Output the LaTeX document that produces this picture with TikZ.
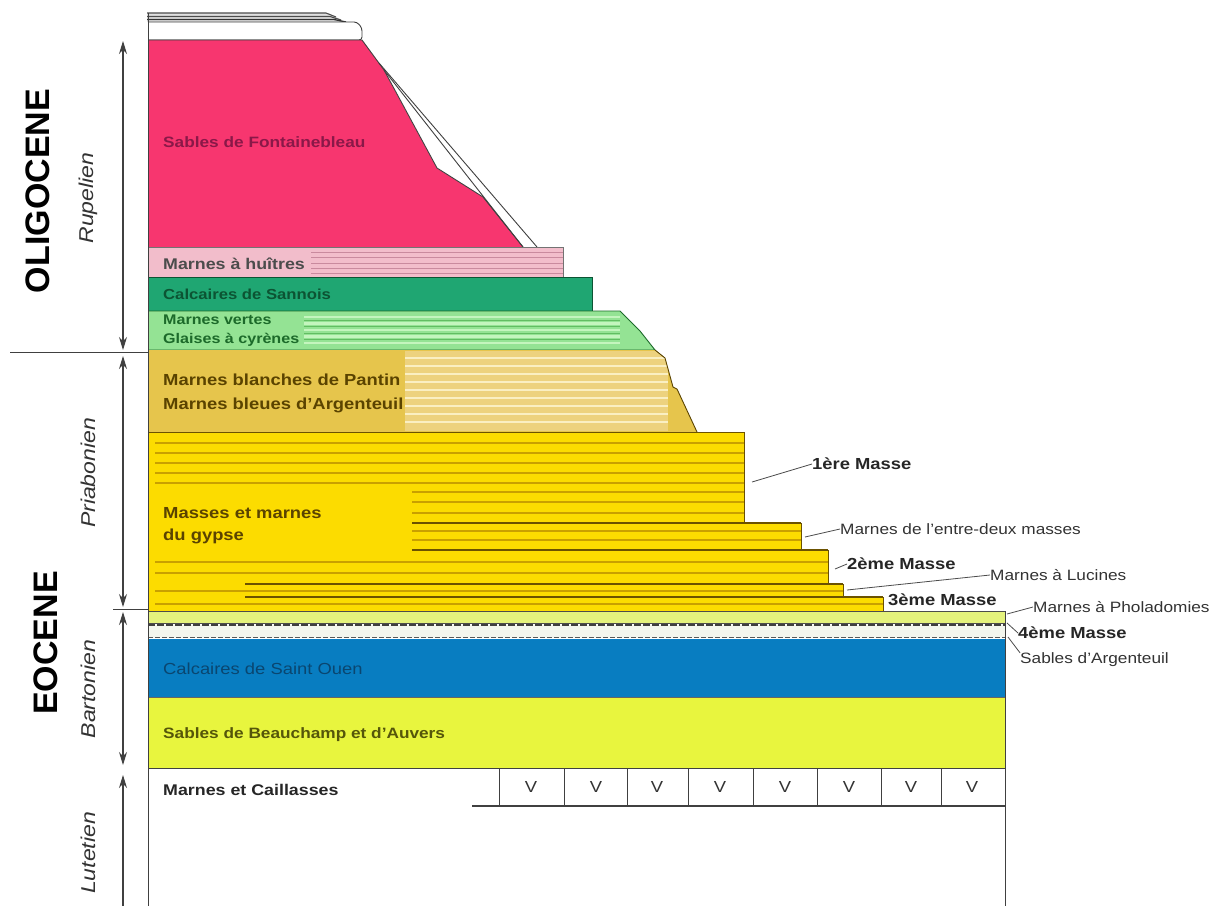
\documentclass[tikz,border=0pt]{standalone}
\usepackage{fontspec}
\setmainfont{Liberation Sans}[FakeStretch=1.15]
\newfontfamily\epochfont{Liberation Sans}
\usetikzlibrary{arrows.meta}
\newcommand{\myfs}[1]{\fontsize{#1}{#1}\selectfont}
\definecolor{pinkF}{HTML}{F7366F}
\definecolor{pinkT}{HTML}{8A1848}
\definecolor{huitre}{HTML}{F2BDCB}
\definecolor{huitreL}{HTML}{C98A9E}
\definecolor{sannois}{HTML}{1FA672}
\definecolor{sannoisT}{HTML}{0C5433}
\definecolor{vertes}{HTML}{94E394}
\definecolor{vertesL}{HTML}{C4F5BE}
\definecolor{vertesD}{HTML}{62BD62}
\definecolor{vertesT}{HTML}{1C6A2A}
\definecolor{tan}{HTML}{E6C54C}
\definecolor{tanH}{HTML}{EDD27E}
\definecolor{tanL}{HTML}{FAEFC2}
\definecolor{tanT}{HTML}{5A4300}
\definecolor{gyp}{HTML}{FCDC00}
\definecolor{gypL}{HTML}{C9A000}
\definecolor{gypD}{HTML}{6B5200}
\definecolor{phol}{HTML}{E4F27C}
\definecolor{argent}{HTML}{F3F6EE}
\definecolor{ouen}{HTML}{087DC1}
\definecolor{ouenT}{HTML}{0A4670}
\definecolor{beau}{HTML}{E8F53E}
\definecolor{beauT}{HTML}{55560A}
\tikzset{
 edge/.style={draw=black!75, line width=0.9pt},
 lab/.style={anchor=west, inner sep=0pt},
 small/.style={anchor=west, inner sep=0pt, font=\myfs{15}, text=black!80},
 masse/.style={anchor=west, inner sep=0pt, font=\myfs{16}\bfseries, text=black!85},
 stage/.style={rotate=90, inner sep=0pt, font=\myfs{20}\itshape, text=black!80},
 epoch/.style={rotate=90, inner sep=0pt, font=\epochfont\myfs{34}\bfseries, text=black},
 leader/.style={draw=black!70, line width=0.8pt},
 axisline/.style={draw=black!75, line width=1.1pt},
 dbl/.style={axisline, {Stealth[length=13pt,width=8pt]}-{Stealth[length=13pt,width=8pt]}},
 gstripe/.style={draw=gypL, line width=2.2pt},
 gdark/.style={draw=gypD, line width=1.6pt}
}
\begin{document}
\begin{tikzpicture}[x=1pt,y=-1pt]
\useasboundingbox (0,0) rectangle (1216,906);
\fill[white] (0,0) rectangle (1216,906);

% top strata
\fill[black!12] (147,13) -- (328,13) -- (346,22) -- (147,22) -- cycle;
\draw[black!70, line width=1.1pt] (147,13)--(326,13)--(336,17);
\draw[black!70, line width=1.1pt] (147,16.5)--(330,16.5)--(341,20);
\draw[black!80, line width=1.3pt] (147,19.5)--(334,19.5)--(346,22);
\draw[edge, fill=white, rounded corners=3pt] (148,22) -- (357,22) -- (362,28) -- (362,40) -- (148,40);

% Sables de Fontainebleau
\fill[pinkF] (148,40) -- (362,40) -- (384,70) -- (437,168) -- (483,197) -- (523,247) -- (148,247) -- cycle;
\fill[white] (384,70) -- (380,64) -- (537,247) -- (523,247) -- (483,197) -- (437,168) -- cycle;
\draw[edge] (148,40) -- (362,40) -- (384,70) -- (437,168) -- (483,197) -- (523,247);
\draw[edge] (384,70) -- (523,247);
\draw[edge] (379,63) -- (537,247);

% Marnes a huitres
\fill[huitre] (148,247) rectangle (563,277);
\foreach \y in {252,257.5,263,268.5,273}{\draw[huitreL, line width=0.9pt] (311,\y) -- (563,\y);}
\draw[edge, draw=black!55] (148,247) rectangle (563,277);

% Calcaires de Sannois
\fill[sannois] (148,277) rectangle (592,311);
\draw[edge, draw=sannoisT] (148,277) rectangle (592,311);

% Marnes vertes
\fill[vertes] (148,311) -- (620,311) -- (640,331) -- (655,350) -- (148,350) -- cycle;
\foreach \y in {317,323.5,330,336.5,343}{\draw[vertesL, line width=2.2pt] (304,\y) -- (620,\y);}
\foreach \y in {320.2,326.8,333.2,339.8}{\draw[vertesD, line width=0.8pt] (304,\y) -- (620,\y);}
\draw[edge, draw=vertesT] (148,311) -- (620,311) -- (640,331) -- (655,350) -- (148,350);

% Marnes blanches / bleues
\fill[tan] (148,350) -- (655,350) -- (665,358) -- (673,387) -- (677,389) -- (697,432) -- (148,432) -- cycle;
\begin{scope}
\clip (148,350) -- (655,350) -- (665,358) -- (673,387) -- (677,389) -- (697,432) -- (148,432) -- cycle;
\fill[tanH] (405,351) rectangle (668,431);
\foreach \y in {358,366,374,382,390,398,406,414,422}{\draw[tanL, line width=2.4pt] (405,\y) -- (668,\y);}
\end{scope}
\draw[edge, draw=tanT] (655,350) -- (665,358) -- (673,387) -- (677,389) -- (697,432);

% Gypse
\fill[gyp] (148,432) -- (744,432) -- (744,523) -- (801,523) -- (801,550) -- (828,550) -- (828,584) -- (843,584) -- (843,597) -- (883,597) -- (883,611) -- (148,611) -- cycle;
\foreach \y in {443,453,463,473,483}{\draw[gstripe] (155,\y) -- (744,\y);}
\foreach \y in {492,502,513}{\draw[gstripe] (412,\y) -- (744,\y);}
\foreach \y in {531,540}{\draw[gstripe] (412,\y) -- (801,\y);}
\foreach \y in {562,573}{\draw[gstripe] (155,\y) -- (828,\y);}
\draw[gstripe] (155,591) -- (843,591);
\draw[gstripe] (155,604) -- (883,604);
\draw[gdark] (412,523) -- (801,523);
\draw[gdark] (412,550) -- (828,550);
\draw[gdark] (245,584) -- (843,584);
\draw[gdark] (245,597) -- (883,597);
\draw[edge, draw=gypD] (148,432) -- (744,432) -- (744,523) -- (801,523) -- (801,550) -- (828,550) -- (828,584) -- (843,584) -- (843,597) -- (883,597) -- (883,611);

% Pholadomies, 4eme masse, Sables d'Argenteuil
\fill[phol] (148,611) rectangle (1005,623);
\draw[edge, draw=black!70] (148,611) rectangle (1005,623);
\fill[argent] (148,625) rectangle (1005,638);
\draw[black!75, line width=1.3pt, dash pattern=on 7pt off 2pt] (148,625) -- (1005,625);
\draw[black!65, line width=1.1pt, dash pattern=on 5pt off 2pt] (148,637.5) -- (1005,637.5);

% Calcaires de Saint Ouen
\fill[ouen] (148,638.5) rectangle (1005,697);
% Sables de Beauchamp
\fill[beau] (148,697) rectangle (1005,768);
\draw[edge, draw=black!60] (148,697) -- (1005,697);
\draw[edge] (148,768) -- (1005,768);

% Marnes et Caillasses
\foreach \x in {499,564,627,688,753,817,881,941}{\draw[edge] (\x,768) -- (\x,806);}
\draw[black!75, line width=2pt] (472,806) -- (1005,806);
\foreach \x/\n in {531/v1,596/v2,657/v3,720/v4,785/v5,849/v6,911/v7,972/v8}{\node[font=\myfs{16}, text=black!80] (\n) at (\x,787) {V};}

% frame
\draw[edge] (148,13) -- (148,906);
\draw[edge] (1005,611) -- (1005,906);

% left axis
\draw[dbl] (123,41) -- (123,350);
\draw[axisline] (10,352.5) -- (148,352.5);
\draw[dbl] (123,356) -- (123,607);
\draw[axisline] (113,609.5) -- (148,609.5);
\draw[dbl] (123,612) -- (123,765);
\draw[axisline, {Stealth[length=13pt,width=8pt]}-] (123,775) -- (123,906);

\node[epoch] (oligo) at (38,191) {OLIGOCENE};
\node[epoch] (eoc) at (46,643) {EOCENE};
\node[stage] (rup) at (88,198) {Rupelien};
\node[stage] (pri) at (88,473) {Priabonien};
\node[stage] (bar) at (88,689) {Bartonien};
\node[stage] (lut) at (88,853) {Lutetien};

% layer labels
\node[lab, font=\myfs{15}\bfseries, text=pinkT] (fontainebleau) at (163,142) {Sables de Fontainebleau};
\node[lab, font=\myfs{15.5}\bfseries, text=black!70] (huitres) at (163,264) {Marnes à huîtres};
\node[lab, font=\myfs{14.5}\bfseries, text=sannoisT] (sannoisl) at (163,294) {Calcaires de Sannois};
\node[lab, font=\myfs{14}\bfseries, text=vertesT] (vertesl) at (163,320) {Marnes vertes};
\node[lab, font=\myfs{14}\bfseries, text=vertesT] (glaises) at (163,340) {Glaises à cyrènes};
\node[lab, font=\myfs{16}\bfseries, text=tanT] (pantin) at (163,380) {Marnes blanches de Pantin};
\node[lab, font=\myfs{16}\bfseries, text=tanT] (bleues) at (163,405) {Marnes bleues d'Argenteuil};
\node[lab, font=\myfs{16}\bfseries, text=tanT] (masses) at (163,513) {Masses et marnes};
\node[lab, font=\myfs{16}\bfseries, text=tanT] (gypse) at (163,536) {du gypse};
\node[lab, font=\myfs{16}, text=ouenT] (ouenl) at (163,669) {Calcaires de Saint Ouen};
\node[lab, font=\myfs{15}\bfseries, text=beauT] (beaul) at (163,735) {Sables de Beauchamp et d'Auvers};
\node[lab, font=\myfs{15.5}\bfseries, text=black!85] (caill) at (163,790) {Marnes et Caillasses};

% right labels with leaders
\node[masse] (m1) at (812,464) {1ère Masse};
\coordinate (m1a) at (752,482);
\draw[leader] (m1a) -- (m1.west);
\node[small] (ed) at (840,529) {Marnes de l'entre-deux masses};
\coordinate (eda) at (805,537);
\draw[leader] (eda) -- (ed.west);
\node[masse] (m2) at (847,564) {2ème Masse};
\coordinate (m2a) at (835,569);
\draw[leader] (m2a) -- (m2.west);
\node[small] (luc) at (990,575) {Marnes à Lucines};
\coordinate (luca) at (847,590);
\draw[leader] (luca) -- (luc.west);
\node[masse] (m3) at (888,600) {3ème Masse};
\node[small] (pho) at (1033,607) {Marnes à Pholadomies};
\coordinate (phoa) at (1007,614);
\draw[leader] (phoa) -- (pho.west);
\node[masse] (m4) at (1018,633) {4ème Masse};
\coordinate (m4a) at (1007,623);
\draw[leader] (m4a) -- (m4.west);
\node[small] (sarg) at (1020,660) {Sables d'Argenteuil};
\coordinate (sarga) at (1008,637);
\draw[leader] (sarga) -- (sarg.north west);
\end{tikzpicture}
\end{document}
